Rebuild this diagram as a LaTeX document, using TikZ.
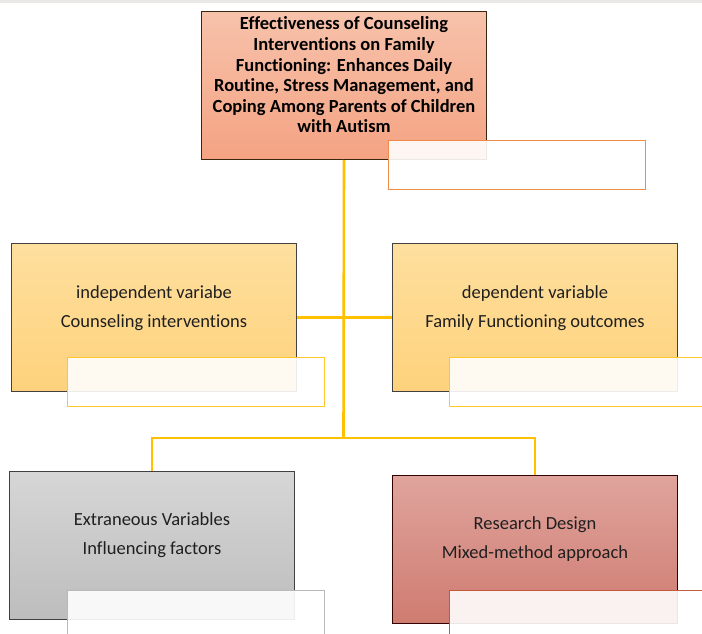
\documentclass[tikz,border=0pt]{standalone}
\usepackage{fontspec}
\setmainfont[RawFeature={-liga}]{Carlito}
\usetikzlibrary{calc}
\definecolor{gold}{HTML}{FFC000}
\definecolor{ovgold}{HTML}{FFC72C}
\definecolor{stripgrey}{HTML}{E9E8E6}
\definecolor{ovorange}{HTML}{F08A4B}
\definecolor{ovred}{HTML}{C45A3B}
\definecolor{salmonTop}{HTML}{F7C2AB}
\definecolor{salmonBot}{HTML}{F4A382}
\definecolor{yelTop}{HTML}{FEDF9E}
\definecolor{yelBot}{HTML}{FED27C}
\definecolor{greyTop}{HTML}{D6D6D6}
\definecolor{greyBot}{HTML}{BDBDBD}
\definecolor{redTop}{HTML}{DFA49D}
\definecolor{redBot}{HTML}{CF7B70}
\tikzset{
  box/.style={draw, line width=1pt, minimum width=285pt, minimum height=148pt, inner sep=0pt, anchor=north west},
  topbox/.style={box, draw=black!70!brown, top color=salmonTop, bottom color=salmonBot},
  yelbox/.style={box, draw=black!75, top color=yelTop, bottom color=yelBot},
  greybox/.style={box, draw=black!75, top color=greyTop, bottom color=greyBot},
  redbox/.style={box, draw=black!80!red, top color=redTop, bottom color=redBot},
  overlay/.style={draw, line width=1pt, fill=white, fill opacity=0.9, draw opacity=1, minimum width=257pt, minimum height=49pt, inner sep=0pt, anchor=north west},
  btext/.style={align=center, font=\fontsize{18.5}{29}\selectfont, text=black!88},
  ttext/.style={align=center, font=\fontsize{18.5}{20.6}\selectfont\bfseries, text=black},
  link/.style={draw=gold, line width=2.6pt}
}
\begin{document}
\begin{tikzpicture}[x=1pt,y=-1pt]
\useasboundingbox (0,0) rectangle (702,634);
\clip (0,0) rectangle (702,634);
\fill[white] (0,0) rectangle (702,634);
\fill[stripgrey] (0,0) rectangle (702,3.5);
% boxes
\node[topbox] (top) at (201,11) {};
\node[yelbox] (iv) at (11,243) {};
\node[yelbox] (dv) at (392,243) {};
\node[greybox] (ev) at (9,471) {};
\node[redbox] (rd) at (392,475) {};
% connectors
\coordinate (j) at (343.5,438);
\draw[link] (top.south) -- (j);
\draw[link] (iv.east) -- (dv.west);
\draw[link] (ev.north) |- (j) -| (rd.north);
% overlays
\node[overlay, draw=ovorange] (o1) at (388,140) {};
\node[overlay, draw=ovgold] (o2) at (67,357) {};
\node[overlay, draw=ovgold] (o3) at (449,357) {};
\node[overlay, draw=black!28] (o4) at (67,590) {};
\node[overlay, draw=ovred] (o5) at (449,590) {};
% texts
\node[ttext] (t1) at ($(top.center)+(0,-10.5)$) {Effectiveness of Counseling\\Interventions on Family\\Functioning: Enhances Daily\\Routine, Stress Management, and\\Coping Among Parents of Children\\with Autism};
\node[btext] (t2) at ($(iv.center)+(0,-9.5)$) {independent variabe\\Counseling interventions};
\node[btext] (t3) at ($(dv.center)+(0,-9.5)$) {dependent variable\\Family Functioning outcomes};
\node[btext] (t4) at ($(ev.center)+(0,-10)$) {Extraneous Variables\\Influencing factors};
\node[btext] (t5) at ($(rd.center)+(0,-10)$) {Research Design\\Mixed-method approach};
\end{tikzpicture}
\end{document}
